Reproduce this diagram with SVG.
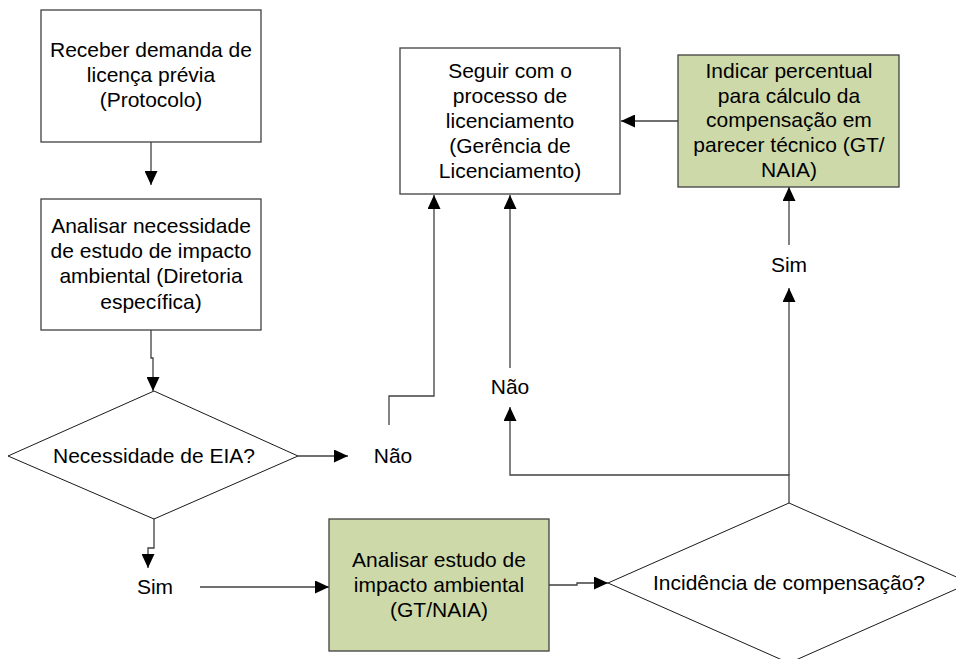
<svg xmlns="http://www.w3.org/2000/svg" width="956" height="659" viewBox="0 0 956 659">
<style>
.box{fill:#ffffff;stroke:#404040;stroke-width:1.3}
.green{fill:#cdd9a9;stroke:#404040;stroke-width:1.3}
.dia{fill:#ffffff;stroke:#1a1a1a;stroke-width:1}
.t{font-family:"Liberation Sans",Arial,sans-serif;font-size:21px;fill:#000;text-anchor:middle}
.c{fill:none;stroke:#404040;stroke-width:1.3;marker-end:url(#ah)}
.cn{fill:none;stroke:#404040;stroke-width:1.3}
</style>
<defs>
<marker id="ah" markerUnits="userSpaceOnUse" markerWidth="15" markerHeight="13" refX="14" refY="6.5" orient="auto">
<path d="M0,0 L14,6.5 L0,13 z" fill="#000"/>
</marker>
</defs>
<rect width="956" height="659" fill="#ffffff"/>
<g id="connectors">
<path class="c" d="M151,142 V185"/>
<path class="c" d="M151,330 V358 H153 V391"/>
<path class="c" d="M298,456 H348"/>
<path class="c" d="M389,425 V396 H434 V195"/>
<path class="c" d="M510,368 V195"/>
<path class="c" d="M679,121 H621"/>
<path class="c" d="M789,503 V475 H510 V407"/>
<path class="c" d="M789,475 V288"/>
<path class="c" d="M789,245 V187"/>
<path class="c" d="M154,519 V548 H148 V568"/>
<path class="c" d="M200,587 H329"/>
<path class="c" d="M549,585 H577 V583 H608"/>
</g>
<g id="n1">
<rect class="box" x="41" y="10" width="220" height="132"/>
<text class="t"><tspan x="151" y="57">Receber demanda de</tspan><tspan x="151" y="82">licença prévia</tspan><tspan x="151" y="107">(Protocolo)</tspan></text>
</g>
<g id="n2">
<rect class="box" x="41" y="199" width="220" height="131"/>
<text class="t"><tspan x="151" y="233">Analisar necessidade</tspan><tspan x="151" y="258">de estudo de impacto</tspan><tspan x="151" y="283">ambiental (Diretoria</tspan><tspan x="151" y="309">específica)</tspan></text>
</g>
<g id="d1">
<polygon class="dia" points="154,391 298,456 154,519 8,456"/>
<text class="t" x="154" y="463">Necessidade de EIA?</text>
</g>
<g id="nao1">
<text class="t" x="393" y="463">Não</text>
</g>
<g id="sim1">
<text class="t" x="155" y="594">Sim</text>
</g>
<g id="n3">
<rect class="box" x="400" y="48" width="220" height="146"/>
<text class="t"><tspan x="510" y="78">Seguir com o</tspan><tspan x="510" y="103">processo de</tspan><tspan x="510" y="128">licenciamento</tspan><tspan x="510" y="153">(Gerência de</tspan><tspan x="510" y="178">Licenciamento)</tspan></text>
</g>
<g id="n4">
<rect class="green" x="678" y="55" width="221" height="132"/>
<text class="t"><tspan x="789" y="78">Indicar percentual</tspan><tspan x="789" y="103">para cálculo da</tspan><tspan x="789" y="127">compensação em</tspan><tspan x="789" y="152">parecer técnico (GT/</tspan><tspan x="789" y="177">NAIA)</tspan></text>
</g>
<g id="sim2">
<text class="t" x="789" y="272">Sim</text>
</g>
<g id="nao2">
<text class="t" x="510" y="394">Não</text>
</g>
<g id="n5">
<rect class="green" x="329" y="519" width="220" height="132"/>
<text class="t"><tspan x="439" y="567">Analisar estudo de</tspan><tspan x="439" y="592">impacto ambiental</tspan><tspan x="439" y="617">(GT/NAIA)</tspan></text>
</g>
<g id="d2">
<polygon class="dia" points="789,503 970,583 789,663 608,583"/>
<text class="t" x="789" y="590">Incidência de compensação?</text>
</g>
</svg>
